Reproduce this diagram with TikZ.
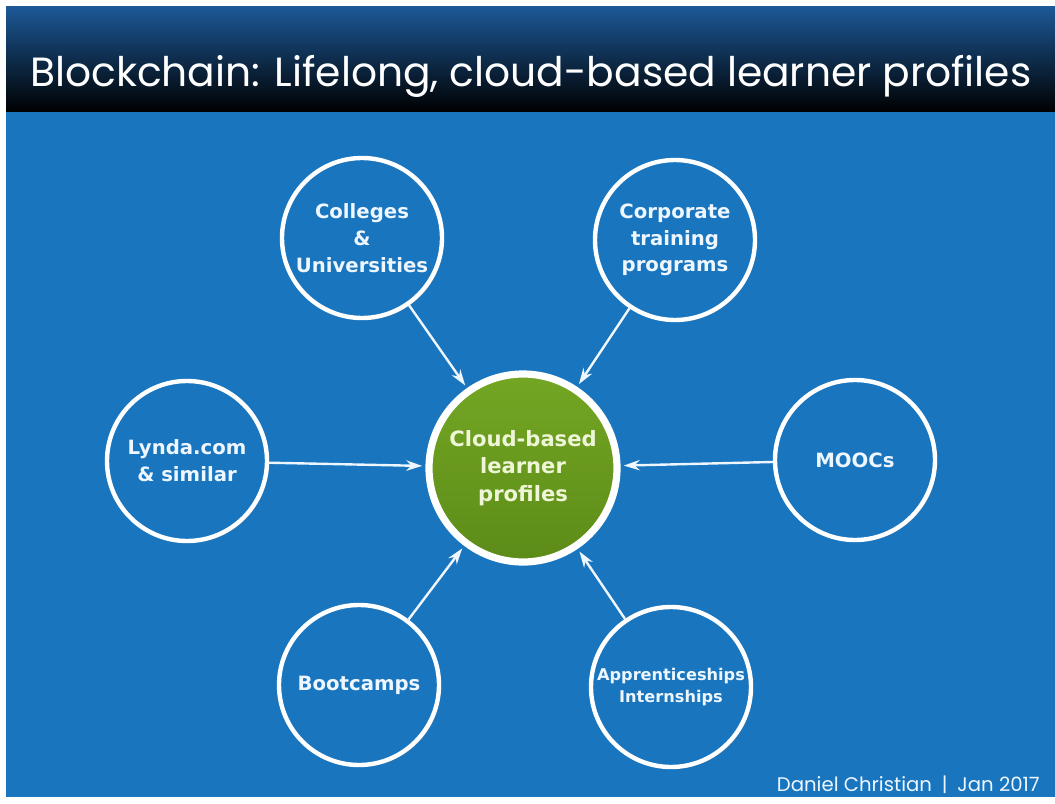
\documentclass[tikz,border=0pt]{standalone}
\usepackage{fontspec}
\setmainfont{DejaVu Sans}
\newfontfamily\slidefont{Poppins}
\usetikzlibrary{shapes.geometric, arrows, arrows.meta, shadows}
\definecolor{bodyblue}{RGB}{24,117,190}
\definecolor{titletop}{RGB}{28,88,150}
\definecolor{hubgreen}{RGB}{116,166,36}
\definecolor{hubdark}{RGB}{92,140,24}
\definecolor{paletext}{RGB}{238,246,255}
\definecolor{hubtext}{RGB}{238,246,215}
\tikzstyle{source} = [circle, minimum size=40mm, inner sep=0pt, draw=white, line width=1.1mm, fill=bodyblue, text=paletext, align=center, font=\bfseries\fontsize{14}{19}\selectfont, drop shadow={opacity=0.35, shadow xshift=0.5mm, shadow yshift=-0.5mm}]
\tikzstyle{hub} = [circle, minimum size=47mm, inner sep=0pt, draw=white, line width=1.8mm, top color=hubgreen, bottom color=hubdark, text=hubtext, align=center, font=\bfseries\fontsize{15}{19.5}\selectfont, drop shadow={opacity=0.4, shadow xshift=0.6mm, shadow yshift=-0.6mm}]
\tikzstyle{titletext} = [text=white, inner sep=0pt, font=\slidefont\fontsize{29}{33}\selectfont]
\tikzstyle{footer} = [text=paletext, inner sep=0pt, font=\slidefont\fontsize{14}{16}\selectfont]
\tikzstyle{arrow} = [line width=0.6mm, draw=paletext, ->, >={Stealth[length=4mm, width=2.6mm]}, shorten >=0.8mm]

\begin{document}
\begin{tikzpicture}[x=0.25mm, y=-0.25mm]
\useasboundingbox (0,0) rectangle (1055,804);
% slide background
\fill[bodyblue] (6,7) rectangle (1055,797);
\shade[top color=titletop, bottom color=black] (6,7) rectangle (1055,112);
\node (title) [titletext, anchor=base west] at (30,87) {Blockchain: Lifelong, cloud-based learner profiles};
% hub and sources
\node (profiles) [hub] at (523,468) {Cloud-based\\learner\\profiles};
\node (colleges) [source] at (362,238) {Colleges\\\&\\Universities};
\node (corporate) [source] at (675,240) {Corporate\\training\\programs};
\node (lynda) [source] at (187,461) {Lynda.com\\\& similar};
\node (moocs) [source] at (855,460) {MOOCs};
\node (bootcamps) [source] at (359,685) {Bootcamps};
\node (apprentice) [source, font=\bfseries\fontsize{11.5}{15.5}\selectfont] at (671,687) {Apprenticeships\\Internships};
\node (credit) [footer, anchor=base east] at (1040,791) {Daniel Christian\enspace|\enspace Jan 2017};
\draw [arrow] (colleges) -- (profiles);
\draw [arrow] (corporate) -- (profiles);
\draw [arrow] (lynda) -- (profiles);
\draw [arrow] (moocs) -- (profiles);
\draw [arrow] (bootcamps) -- (profiles);
\draw [arrow] (apprentice) -- (profiles);
\end{tikzpicture}
\end{document}
